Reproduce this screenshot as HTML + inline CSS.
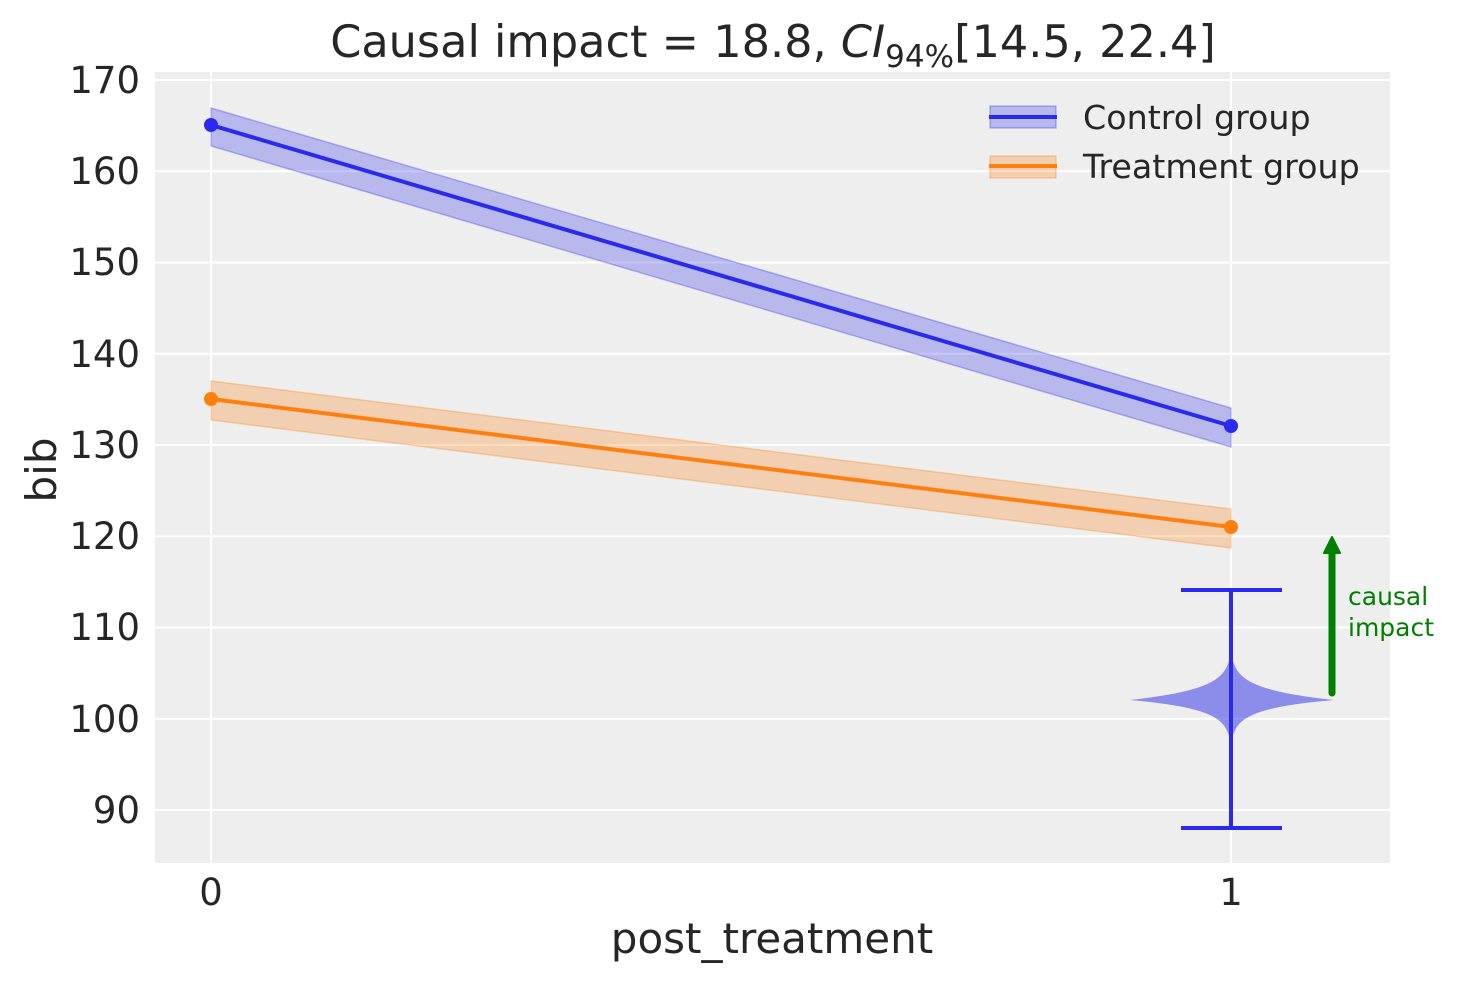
<!DOCTYPE html>
<html><head><meta charset="utf-8"><style>html,body{margin:0;padding:0;background:#fff}svg{display:block}text{font-family:"DejaVu Sans","Liberation Sans",sans-serif;fill:#262626}</style></head>
<body>
<svg width="1463" height="983" viewBox="0 0 1463 983" xmlns="http://www.w3.org/2000/svg">
<rect x="155" y="72" width="1235" height="791" fill="#eeeeee"/>
<g stroke="#fff" stroke-width="2">
<line x1="155" x2="1390" y1="80" y2="80"/><line x1="155" x2="1390" y1="171.25" y2="171.25"/>
<line x1="155" x2="1390" y1="262.5" y2="262.5"/><line x1="155" x2="1390" y1="353.75" y2="353.75"/>
<line x1="155" x2="1390" y1="445" y2="445"/><line x1="155" x2="1390" y1="536.25" y2="536.25"/>
<line x1="155" x2="1390" y1="627.5" y2="627.5"/><line x1="155" x2="1390" y1="718.75" y2="718.75"/>
<line x1="155" x2="1390" y1="810" y2="810"/>
<line x1="211" x2="211" y1="72" y2="863"/><line x1="1231" x2="1231" y1="72" y2="863"/>
</g>
<polygon points="211,108 1231,408 1231,447 211,146" fill="#2a2ae8" fill-opacity="0.27" stroke="#2a2ae8" stroke-opacity="0.3" stroke-width="1.5"/>
<polygon points="211,381 1231,509 1231,548 211,420" fill="#ff7f0e" fill-opacity="0.27" stroke="#ff7f0e" stroke-opacity="0.3" stroke-width="1.5"/>
<line x1="211" y1="125" x2="1231" y2="426" stroke="#2a2aee" stroke-width="4"/>
<line x1="211" y1="399" x2="1231" y2="527" stroke="#ff7f0e" stroke-width="4"/>
<circle cx="211" cy="125" r="7" fill="#2a2aee"/><circle cx="1231" cy="426" r="7" fill="#2a2aee"/>
<circle cx="211" cy="399" r="7" fill="#ff7f0e"/><circle cx="1231" cy="527" r="7" fill="#ff7f0e"/>
<path d="M1231,653 C1236,675 1240,690 1334,700 C1240,708 1236,722 1231,743 C1226,722 1222,708 1130,700 C1222,690 1226,675 1231,653 Z" fill="#2a2ae8" fill-opacity="0.5"/>
<g stroke="#2a2aee" stroke-width="4">
<line x1="1231" y1="590" x2="1231" y2="828"/>
<line x1="1181" y1="590" x2="1282" y2="590"/><line x1="1181" y1="828" x2="1282" y2="828"/>
</g>
<line x1="1332" y1="693" x2="1332" y2="552" stroke="#008000" stroke-width="7" stroke-linecap="round"/>
<polygon points="1324,553 1332,537 1340,553" fill="#008000" stroke="#008000" stroke-width="2" stroke-linejoin="round"/>
<text x="1348" y="605" font-size="25" style="fill:#008000">causal</text>
<text x="1348" y="636" font-size="25" style="fill:#008000">impact</text>
<rect x="990" y="106" width="66" height="22" fill="#2a2ae8" fill-opacity="0.27" stroke="#2a2ae8" stroke-opacity="0.3" stroke-width="1.5"/>
<line x1="989" x2="1057" y1="117" y2="117" stroke="#2a2aee" stroke-width="4"/>
<rect x="990" y="156" width="66" height="22" fill="#ff7f0e" fill-opacity="0.27" stroke="#ff7f0e" stroke-opacity="0.3" stroke-width="1.5"/>
<line x1="989" x2="1057" y1="166" y2="166" stroke="#ff7f0e" stroke-width="4"/>
<text x="1083" y="129" font-size="33.3">Control group</text>
<text x="1083" y="178" font-size="33.3">Treatment group</text>
<g font-size="37" text-anchor="end">
<text x="140" y="93">170</text><text x="140" y="184">160</text><text x="140" y="275">150</text>
<text x="140" y="367">140</text><text x="140" y="458">130</text><text x="140" y="549">120</text>
<text x="140" y="640">110</text><text x="140" y="732">100</text><text x="140" y="823">90</text>
</g>
<g font-size="37" text-anchor="middle">
<text x="211" y="905">0</text><text x="1231" y="905">1</text>
<text x="772" y="953" font-size="42">post_treatment</text>
<text x="773" y="57" font-size="44.6">Causal impact = 18.8, <tspan font-style="italic">CI</tspan><tspan font-size="31" dy="10">94%</tspan><tspan dy="-10">[14.5, 22.4]</tspan></text>
</g>
<text transform="translate(56,470) rotate(-90)" font-size="42" text-anchor="middle">bib</text>
</svg>
</body></html>
